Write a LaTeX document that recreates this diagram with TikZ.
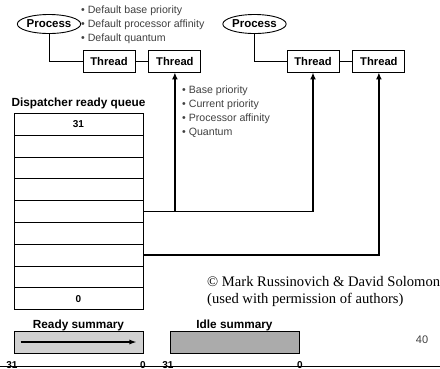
\documentclass[tikz,border=0pt]{standalone}
\usepackage{fontspec}
\setmainfont{Liberation Sans}
\newfontfamily\serifnote{Liberation Serif}
\usetikzlibrary{positioning,shapes.geometric,arrows.meta}

\begin{document}
\begin{tikzpicture}[x=1pt,y=-1pt,
    proc/.style={ellipse,draw,line width=0.9pt,inner sep=0pt,minimum width=57pt,minimum height=19pt,font=\bfseries\fontsize{11.5}{12}\selectfont},
    thr/.style={draw,line width=0.9pt,minimum width=52pt,minimum height=22pt,inner sep=0pt,font=\bfseries\fontsize{11.2}{12}\selectfont},
    qrow/.style={draw,line width=0.8pt,minimum width=129pt,minimum height=21.8pt,inner sep=0pt},
    qnum/.style={inner sep=0pt,font=\bfseries\fontsize{10}{11}\selectfont},
    bul/.style={anchor=west,inner sep=0pt,text=black!75,font=\fontsize{10.6}{14}\selectfont,align=left},
    hdr/.style={inner sep=0pt,font=\bfseries\fontsize{11.8}{12}\selectfont},
    link/.style={line width=1.6pt,-{Latex[length=7pt,width=6pt]}},
    summ/.style={draw,line width=0.9pt,minimum width=129pt,minimum height=22pt,inner sep=0pt}] %
  \useasboundingbox (0,0) rectangle (440,368); %
  % processes and threads
  \node[proc] (p1) at (49,24) {Process} ; %
  \node[proc] (p2) at (254.5,24) {Process} ; %
  \node[thr] (t1) at (109,61) {Thread} ; %
  \node[thr, right=13pt of t1] (t2) {Thread} ; %
  \node[thr] (t3) at (313,61) {Thread} ; %
  \node[thr, right=13pt of t3] (t4) {Thread} ; %
  \draw[line width=0.9pt] (p1.south) |- (t1.west) (t1) -- (t2); %
  \draw[line width=0.9pt] (p2.south) |- (t3.west) (t3) -- (t4); %
  \node[bul] (procattr) at (81,25) {\textbullet\ Default base priority\\\textbullet\ Default processor affinity\\\textbullet\ Default quantum} ; %
  \node[bul] (thrattr) at (182,112) {\textbullet\ Base priority\\\textbullet\ Current priority\\\textbullet\ Processor affinity\\\textbullet\ Quantum} ; %
  % ready queue
  \node[hdr] (qtitle) at (78.5,103) {Dispatcher ready queue} ; %
  \foreach \i in {0,...,8}
    \node[qrow] (q\i) at (78.5,124.2+\i*21.8) {} ; %
  \node[qnum] at (q0) {31} ; %
  \node[qnum] at (q8) {0} ; %
  \coordinate (j1) at (t2.south |- q4.east) ; %
  \draw[line width=1.6pt] (q4.east) -- (j1) ; %
  \draw[link] (j1) -| (t3.south) ; %
  \draw[link] (j1) -- (t2.south) ; %
  \draw[link] (q6.east) -| (t4.south) ; %
  % copyright note
  \node[anchor=west,inner sep=0pt,align=left,font=\serifnote\fontsize{14.6}{17}\selectfont] (note) at (207,291.5) {\textcopyright\ Mark Russinovich \& David Solomon\\(used with permission of authors)} ; %
  % summaries
  \node[hdr] (rtitle) at (78.5,325.5) {Ready summary} ; %
  \node[summ, fill=black!18] (rsum) at (78.5,342) {} ; %
  \draw[line width=1.2pt,-{Latex[length=7pt,width=5pt]}] ([xshift=7pt]rsum.west) -- ([xshift=-7pt]rsum.east) ; %
  \node[hdr] (ititle) at (234.5,325.5) {Idle summary} ; %
  \node[summ, fill=black!33] (isum) at (235,342) {} ; %
  \node[text=black!75,font=\fontsize{11}{12}\selectfont] (pg) at (422,340) {40} ; %
  \draw[line width=1.8pt] (0,366.5) -- (440,366.5) ; %
  \foreach \x/\t in {12/31,143/0,168/31,300/0}
    \node[anchor=north,inner sep=0pt,font=\bfseries\fontsize{10}{11}\selectfont] at (\x,361.5) {\t} ; %
\end{tikzpicture}
\end{document}
